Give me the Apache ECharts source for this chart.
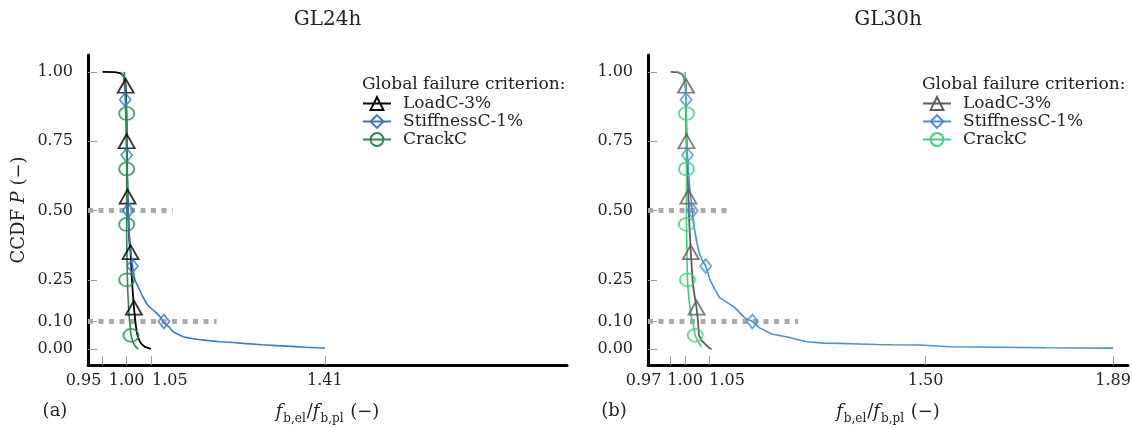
<!DOCTYPE html>
<html><head><meta charset="utf-8">
<script src="https://cdn.jsdelivr.net/npm/echarts@6/dist/echarts.min.js"></script>
<style>html,body{margin:0;padding:0;background:#fff}#c{width:1132px;height:428px}</style>
</head><body><div id="c"></div>
<script>
// ---------- data ----------
const panelTitles = ['GL24h', 'GL30h'];
const panelTags = ['(a)', '(b)'];
const legendTitle = 'Global failure criterion:';
const seriesNames = ['LoadC-3%', 'StiffnessC-1%', 'CrackC'];
const yTickValues = [0, 0.1, 0.25, 0.5, 0.75, 1.0];
const xTickValuesA = [0.95, 1.00, 1.05, 1.41];
const xTickValuesB = [0.97, 1.00, 1.05, 1.50, 1.89];
const refLineY = [0.5, 0.1];
const refLineEndA = [1.095, 1.186];
const refLineEndB = [1.096, 1.235];

// GL24h
const loadA_x = [0.950,0.976,0.986,0.993,0.997,0.998,0.999,1.000,1.000,1.001,1.002,1.004,1.006,1.008,1.010,1.012,1.015,1.018,1.021,1.024,1.030,1.038,1.050];
const loadA_y = [1.000,0.999,0.996,0.988,0.970,0.950,0.900,0.800,0.750,0.650,0.550,0.450,0.380,0.350,0.280,0.220,0.150,0.100,0.060,0.040,0.020,0.008,0.001];
const stiffA_x = [0.988,0.994,0.996,0.997,0.999,1.000,1.002,1.003,1.005,1.008,1.012,1.017,1.025,1.033,1.044,1.052,1.062,1.070,1.077,1.088,1.096,1.105,1.117,1.130,1.145,1.170,1.193,1.220,1.248,1.280,1.310,1.340,1.370,1.395,1.410];
const stiffA_y = [1.000,0.980,0.940,0.900,0.800,0.700,0.580,0.500,0.420,0.360,0.300,0.250,0.220,0.190,0.157,0.145,0.130,0.115,0.096,0.080,0.063,0.055,0.045,0.040,0.036,0.031,0.027,0.024,0.020,0.016,0.013,0.010,0.007,0.005,0.004];
const crackA_x = [0.995,0.997,0.999,1.000,1.000,1.000,1.001,1.002,1.004,1.006,1.009,1.013,1.018,1.024];
const crackA_y = [1.000,0.950,0.880,0.800,0.600,0.400,0.300,0.220,0.150,0.100,0.050,0.025,0.010,0.000];
const loadA_mx = [0.998,1.000,1.002,1.008,1.015];
const loadA_my = [0.95,0.75,0.55,0.35,0.15];
const stiffA_mx = [0.997,1.000,1.003,1.012,1.077];
const stiffA_my = [0.90,0.70,0.50,0.30,0.10];
const crackA_mx = [1.000,1.000,1.000,1.000,1.009];
const crackA_my = [0.85,0.65,0.45,0.25,0.05];

// GL30h
const loadB_x = [0.970,0.986,0.993,0.997,1.000,1.002,1.002,1.003,1.005,1.007,1.009,1.012,1.016,1.020,1.024,1.027,1.029,1.035,1.041,1.048,1.055];
const loadB_y = [1.000,0.998,0.993,0.985,0.970,0.950,0.850,0.750,0.650,0.550,0.450,0.350,0.240,0.190,0.150,0.100,0.050,0.030,0.020,0.008,0.000];
const stiffB_x = [0.985,0.995,1.000,1.002,1.003,1.005,1.008,1.011,1.015,1.019,1.024,1.029,1.036,1.043,1.052,1.062,1.072,1.088,1.104,1.124,1.140,1.155,1.180,1.210,1.253,1.290,1.320,1.360,1.400,1.430,1.488,1.490,1.550,1.606,1.608,1.750,1.890];
const stiffB_y = [1.000,0.990,0.960,0.900,0.800,0.700,0.620,0.560,0.500,0.440,0.390,0.350,0.320,0.300,0.250,0.215,0.186,0.168,0.149,0.113,0.100,0.077,0.055,0.045,0.027,0.022,0.021,0.019,0.017,0.016,0.015,0.010,0.009,0.008,0.006,0.005,0.004];
const crackB_x = [1.000,1.002,1.003,1.003,1.004,1.005,1.008,1.013,1.018,1.021,1.026,1.034];
const crackB_y = [1.000,0.900,0.800,0.450,0.350,0.250,0.180,0.120,0.080,0.050,0.030,0.010];
const loadB_mx = [1.002,1.003,1.007,1.012,1.024];
const loadB_my = [0.95,0.75,0.55,0.35,0.15];
const stiffB_mx = [1.002,1.005,1.015,1.043,1.140];
const stiffB_my = [0.90,0.70,0.50,0.30,0.10];
const crackB_mx = [1.003,1.003,1.003,1.005,1.021];
const crackB_my = [0.85,0.65,0.45,0.25,0.05];

// ---------- styling ----------
const FONT = '"DejaVu Serif", "Liberation Serif", serif';
const colorsA = ['#000000', '#3a7bbf', '#2b8a52'];
const colorsB = ['#5c5c5c', '#4a90d9', '#3fd07f'];
const symbols = ['triangle', 'diamond', 'circle'];
const symbolSizes = [[16, 14], [11, 14], [15, 13]];
const lineWidths = [1.8, 1.6, 1.6];
const xRange = [[0.920, 1.911], [0.923, 1.921]];
const yRange = [-0.057, 1.061];
const grids = [
  {left: 88, top: 55, width: 479, height: 310, outerBoundsMode: 'none', containLabel: false},
  {left: 648, top: 55, width: 480, height: 310, outerBoundsMode: 'none', containLabel: false}
];
const prefixes = ['a:', 'b:'];

function zip(xs, ys) { return xs.map((x, i) => [x, ys[i]]); }
function near(a, b) { return Math.abs(a - b) < 1e-6; }

const panels = [
  {curves: [[loadA_x, loadA_y], [stiffA_x, stiffA_y], [crackA_x, crackA_y]],
   marks: [[loadA_mx, loadA_my], [stiffA_mx, stiffA_my], [crackA_mx, crackA_my]],
   colors: colorsA, refEnd: refLineEndA, xTicks: xTickValuesA,
   shiftL: xTickValuesA[0], shiftR: 1.05, padL: 38, padR: 38},
  {curves: [[loadB_x, loadB_y], [stiffB_x, stiffB_y], [crackB_x, crackB_y]],
   marks: [[loadB_mx, loadB_my], [stiffB_mx, stiffB_my], [crackB_mx, crackB_my]],
   colors: colorsB, refEnd: refLineEndB, xTicks: xTickValuesB,
   shiftL: xTickValuesB[0], shiftR: 1.05, padL: 54, padR: 36}
];

const series = [], xAxes = [], yAxes = [], legends = [], graphics = [];
panels.forEach((P, p) => {
  refLineY.forEach((y, i) => series.push({
    type: 'line', xAxisIndex: p, yAxisIndex: p, silent: true, z: 1,
    data: [[xRange[p][0], y], [P.refEnd[i], y]], symbol: 'none',
    lineStyle: {color: '#aaaaaa', width: 5, type: [5, 5.5]}
  }));
  P.curves.forEach((c, k) => series.push({
    type: 'line', name: prefixes[p] + seriesNames[k], xAxisIndex: p, yAxisIndex: p, z: 2,
    data: zip(c[0], c[1]), symbol: symbols[k], symbolSize: symbolSizes[k], showSymbol: false,
    lineStyle: {color: P.colors[k], width: lineWidths[k]},
    itemStyle: {color: 'rgba(255,255,255,0)', borderColor: P.colors[k], borderWidth: 1.8},
    emphasis: {disabled: true}
  }));
  P.marks.forEach((m, k) => series.push({
    type: 'scatter', name: prefixes[p] + seriesNames[k], xAxisIndex: p, yAxisIndex: p, z: 3,
    data: zip(m[0], m[1]), symbol: symbols[k], symbolSize: symbolSizes[k],
    itemStyle: {color: 'rgba(255,255,255,0)', borderColor: P.colors[k], borderWidth: 1.8},
    emphasis: {disabled: true}
  }));
  xAxes.push({
    type: 'value', gridIndex: p, min: xRange[p][0], max: xRange[p][1],
    splitLine: {show: false},
    axisLine: {show: true, onZero: false, lineStyle: {color: '#000', width: 3}},
    axisTick: {show: true, inside: true, length: 9, customValues: P.xTicks, lineStyle: {color: '#9a9a9a', width: 1}},
    axisLabel: {
      customValues: P.xTicks, margin: 8, color: '#222', fontFamily: FONT, fontSize: 16,
      formatter: v => {
        const s = v.toFixed(2);
        if (near(v, P.shiftL)) return '{l|' + s + '}';
        if (near(v, P.shiftR)) return '{r|' + s + '}';
        return '{c|' + s + '}';
      },
      rich: {
        l: {fontFamily: FONT, fontSize: 16, color: '#222', padding: [0, P.padL, 0, 0]},
        r: {fontFamily: FONT, fontSize: 16, color: '#222', padding: [0, 0, 0, P.padR]},
        c: {fontFamily: FONT, fontSize: 16, color: '#222'}
      }
    },
    name: '{i|f}{s|b,el}{n|/}{i|f}{s|b,pl}{n| (−)}',
    nameLocation: 'middle', nameGap: 38,
    nameTextStyle: {
      rich: {
        i: {fontFamily: FONT, fontStyle: 'italic', fontSize: 18, color: '#222', verticalAlign: 'bottom', padding: [0, 0, 4, 0]},
        s: {fontFamily: FONT, fontSize: 12, color: '#222', verticalAlign: 'bottom', padding: [0, 1, 0, 1]},
        n: {fontFamily: FONT, fontSize: 18, color: '#222', verticalAlign: 'bottom', padding: [0, 0, 4, 0]}
      }
    }
  });
  yAxes.push({
    type: 'value', gridIndex: p, min: yRange[0], max: yRange[1],
    splitLine: {show: false},
    axisLine: {show: true, onZero: false, lineStyle: {color: '#000', width: 3}},
    axisTick: {show: true, inside: true, length: 9, customValues: yTickValues, lineStyle: {color: '#9a9a9a', width: 1}},
    axisLabel: {customValues: yTickValues, margin: 15, color: '#222', fontFamily: FONT, fontSize: 16, formatter: v => v.toFixed(2)},
    name: p === 0 ? '{n|CCDF }{i|P}{n| (−)}' : '',
    nameLocation: 'middle', nameRotate: 90, nameGap: 60,
    nameTextStyle: {
      rich: {
        n: {fontFamily: FONT, fontSize: 18, color: '#222'},
        i: {fontFamily: FONT, fontStyle: 'italic', fontSize: 18, color: '#222'}
      }
    }
  });
  const lx = p === 0 ? 362 : 922;
  legends.push({
    data: seriesNames.map(n => prefixes[p] + n),
    formatter: n => n.slice(2),
    orient: 'vertical', left: lx, top: 95, itemWidth: 28, itemHeight: 16, itemGap: 1, padding: 0,
    selectedMode: false,
    textStyle: {fontFamily: FONT, fontSize: 17, color: '#222', padding: [0, 0, 0, 7]}
  });
  const cx = grids[p].left + grids[p].width / 2;
  graphics.push({type: 'text', x: cx, y: 20, style: {text: panelTitles[p], font: '20px ' + FONT, fill: '#222', textAlign: 'center', textVerticalAlign: 'middle'}});
  graphics.push({type: 'text', x: p === 0 ? 55 : 614, y: 411, style: {text: panelTags[p], font: '18px ' + FONT, fill: '#222', textAlign: 'center', textVerticalAlign: 'middle'}});
  graphics.push({type: 'text', x: lx, y: 85, style: {text: legendTitle, font: '17px ' + FONT, fill: '#222', textAlign: 'left', textVerticalAlign: 'middle'}});
});

const chart = echarts.init(document.getElementById('c'), null, {renderer: 'canvas'});
chart.setOption({
  animation: false,
  backgroundColor: '#fff',
  grid: grids,
  xAxis: xAxes,
  yAxis: yAxes,
  legend: legends,
  graphic: graphics,
  series: series
});
</script>
</body></html>
